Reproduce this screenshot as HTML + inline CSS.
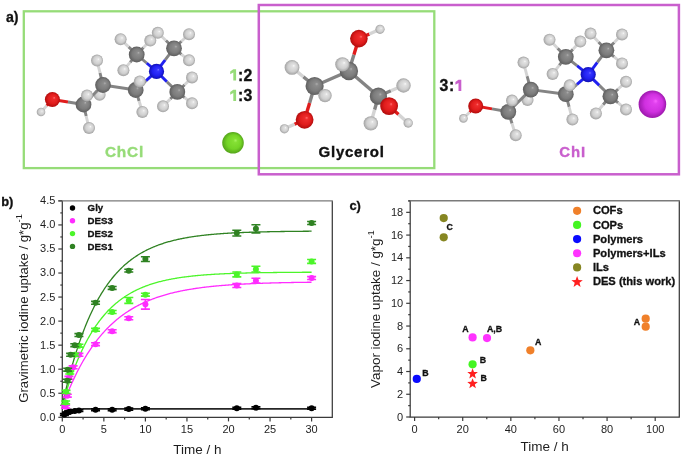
<!DOCTYPE html>
<html><head><meta charset="utf-8"><style>
html,body{margin:0;padding:0;background:#fff;width:685px;height:456px;overflow:hidden}
svg{display:block;filter:blur(0.3px);font-family:"Liberation Sans",sans-serif;}
</style></head><body>
<svg width="685" height="456" viewBox="0 0 685 456">
<defs><radialGradient id="gC" cx="0.5" cy="0.5" r="0.5" fx="0.63" fy="0.38"><stop offset="0" stop-color="#b0b0b0"/><stop offset="0.18" stop-color="#8c8c8c"/><stop offset="0.65" stop-color="#7c7c7c"/><stop offset="1" stop-color="#5e5e5e"/></radialGradient><radialGradient id="gH" cx="0.5" cy="0.5" r="0.5" fx="0.63" fy="0.38"><stop offset="0" stop-color="#fafafa"/><stop offset="0.18" stop-color="#e2e2e2"/><stop offset="0.65" stop-color="#cfcfcf"/><stop offset="1" stop-color="#a2a2a2"/></radialGradient><radialGradient id="gO" cx="0.5" cy="0.5" r="0.5" fx="0.63" fy="0.38"><stop offset="0" stop-color="#ff7070"/><stop offset="0.18" stop-color="#ee2c2c"/><stop offset="0.65" stop-color="#e01c1c"/><stop offset="1" stop-color="#b00c0c"/></radialGradient><radialGradient id="gN" cx="0.5" cy="0.5" r="0.5" fx="0.63" fy="0.38"><stop offset="0" stop-color="#7070ff"/><stop offset="0.18" stop-color="#3434ff"/><stop offset="0.65" stop-color="#2020f0"/><stop offset="1" stop-color="#1010b0"/></radialGradient><radialGradient id="gCl" cx="0.5" cy="0.5" r="0.5" fx="0.63" fy="0.38"><stop offset="0" stop-color="#a8f460"/><stop offset="0.18" stop-color="#84e034"/><stop offset="0.65" stop-color="#74d426"/><stop offset="1" stop-color="#54a41a"/></radialGradient><radialGradient id="gI" cx="0.5" cy="0.5" r="0.5" fx="0.63" fy="0.38"><stop offset="0" stop-color="#f860ff"/><stop offset="0.18" stop-color="#e040ee"/><stop offset="0.65" stop-color="#d030e0"/><stop offset="1" stop-color="#9c18ac"/></radialGradient></defs>
<rect width="685" height="456" fill="#fff"/>
<rect x="23.8" y="11.3" width="410.5" height="156.8" fill="none" stroke="#96dc78" stroke-width="2.3"/><rect x="258.8" y="5" width="420.1" height="169.3" fill="none" stroke="#c95fcd" stroke-width="2.5"/><line x1="103.0" y1="85.0" x2="101.3" y2="89.8" stroke="#848484" stroke-width="2.9"/><line x1="101.3" y1="89.8" x2="99.6" y2="94.7" stroke="#d4d4d4" stroke-width="2.9"/><line x1="136.7" y1="54.5" x2="143.5" y2="47.5" stroke="#848484" stroke-width="2.9"/><line x1="143.5" y1="47.5" x2="150.3" y2="40.6" stroke="#d4d4d4" stroke-width="2.9"/><circle cx="99.6" cy="94.7" r="6.0" fill="url(#gH)"/><circle cx="150.3" cy="40.6" r="6.0" fill="url(#gH)"/><line x1="52.4" y1="99.5" x2="46.7" y2="105.8" stroke="#e01c1c" stroke-width="2.9"/><line x1="46.7" y1="105.8" x2="41.0" y2="112.0" stroke="#d4d4d4" stroke-width="2.9"/><line x1="174.0" y1="48.3" x2="165.9" y2="40.5" stroke="#848484" stroke-width="2.9"/><line x1="165.9" y1="40.5" x2="157.8" y2="32.8" stroke="#d4d4d4" stroke-width="2.9"/><line x1="174.0" y1="48.3" x2="181.5" y2="41.2" stroke="#848484" stroke-width="2.9"/><line x1="181.5" y1="41.2" x2="189.0" y2="34.2" stroke="#d4d4d4" stroke-width="2.9"/><circle cx="41.0" cy="112.0" r="4.3" fill="url(#gH)"/><circle cx="157.8" cy="32.8" r="6.0" fill="url(#gH)"/><circle cx="189.0" cy="34.2" r="6.0" fill="url(#gH)"/><line x1="52.4" y1="99.5" x2="68.0" y2="102.0" stroke="#e01c1c" stroke-width="2.9"/><line x1="68.0" y1="102.0" x2="83.5" y2="104.5" stroke="#848484" stroke-width="2.9"/><line x1="83.5" y1="104.5" x2="85.2" y2="100.0" stroke="#848484" stroke-width="2.9"/><line x1="85.2" y1="100.0" x2="87.0" y2="95.5" stroke="#d4d4d4" stroke-width="2.9"/><line x1="83.5" y1="104.5" x2="86.2" y2="116.2" stroke="#848484" stroke-width="2.9"/><line x1="86.2" y1="116.2" x2="89.0" y2="128.0" stroke="#d4d4d4" stroke-width="2.9"/><line x1="83.5" y1="104.5" x2="103.0" y2="85.0" stroke="#848484" stroke-width="2.9"/><line x1="103.0" y1="85.0" x2="100.0" y2="72.8" stroke="#848484" stroke-width="2.9"/><line x1="100.0" y1="72.8" x2="97.0" y2="60.5" stroke="#d4d4d4" stroke-width="2.9"/><line x1="103.0" y1="85.0" x2="135.7" y2="90.0" stroke="#848484" stroke-width="2.9"/><line x1="135.7" y1="90.0" x2="137.8" y2="85.7" stroke="#848484" stroke-width="2.9"/><line x1="137.8" y1="85.7" x2="139.8" y2="81.4" stroke="#d4d4d4" stroke-width="2.9"/><line x1="135.7" y1="90.0" x2="139.1" y2="101.0" stroke="#848484" stroke-width="2.9"/><line x1="139.1" y1="101.0" x2="142.4" y2="112.0" stroke="#d4d4d4" stroke-width="2.9"/><line x1="135.7" y1="90.0" x2="146.1" y2="80.7" stroke="#848484" stroke-width="2.9"/><line x1="146.1" y1="80.7" x2="156.5" y2="71.4" stroke="#2020f0" stroke-width="2.9"/><line x1="156.5" y1="71.4" x2="146.6" y2="63.0" stroke="#2020f0" stroke-width="2.9"/><line x1="146.6" y1="63.0" x2="136.7" y2="54.5" stroke="#848484" stroke-width="2.9"/><line x1="156.5" y1="71.4" x2="165.2" y2="59.9" stroke="#2020f0" stroke-width="2.9"/><line x1="165.2" y1="59.9" x2="174.0" y2="48.3" stroke="#848484" stroke-width="2.9"/><line x1="136.7" y1="54.5" x2="128.6" y2="46.9" stroke="#848484" stroke-width="2.9"/><line x1="128.6" y1="46.9" x2="120.6" y2="39.2" stroke="#d4d4d4" stroke-width="2.9"/><line x1="136.7" y1="54.5" x2="130.1" y2="62.4" stroke="#848484" stroke-width="2.9"/><line x1="130.1" y1="62.4" x2="123.4" y2="70.2" stroke="#d4d4d4" stroke-width="2.9"/><line x1="174.0" y1="48.3" x2="181.5" y2="54.3" stroke="#848484" stroke-width="2.9"/><line x1="181.5" y1="54.3" x2="189.0" y2="60.3" stroke="#d4d4d4" stroke-width="2.9"/><line x1="177.3" y1="91.9" x2="184.7" y2="84.7" stroke="#848484" stroke-width="2.9"/><line x1="184.7" y1="84.7" x2="192.0" y2="77.4" stroke="#d4d4d4" stroke-width="2.9"/><circle cx="52.4" cy="99.5" r="7.5" fill="url(#gO)"/><circle cx="83.5" cy="104.5" r="7.9" fill="url(#gC)"/><circle cx="89.0" cy="128.0" r="6.0" fill="url(#gH)"/><circle cx="97.0" cy="60.5" r="6.0" fill="url(#gH)"/><circle cx="135.7" cy="90.0" r="7.9" fill="url(#gC)"/><circle cx="142.4" cy="112.0" r="6.0" fill="url(#gH)"/><circle cx="136.7" cy="54.5" r="7.9" fill="url(#gC)"/><circle cx="120.6" cy="39.2" r="6.0" fill="url(#gH)"/><circle cx="174.0" cy="48.3" r="7.9" fill="url(#gC)"/><circle cx="189.0" cy="60.3" r="6.0" fill="url(#gH)"/><circle cx="192.0" cy="77.4" r="6.0" fill="url(#gH)"/><line x1="156.5" y1="71.4" x2="166.9" y2="81.7" stroke="#2020f0" stroke-width="2.9"/><line x1="166.9" y1="81.7" x2="177.3" y2="91.9" stroke="#848484" stroke-width="2.9"/><line x1="177.3" y1="91.9" x2="184.7" y2="97.6" stroke="#848484" stroke-width="2.9"/><line x1="184.7" y1="97.6" x2="192.0" y2="103.3" stroke="#d4d4d4" stroke-width="2.9"/><line x1="177.3" y1="91.9" x2="170.2" y2="99.1" stroke="#848484" stroke-width="2.9"/><line x1="170.2" y1="99.1" x2="163.0" y2="106.3" stroke="#d4d4d4" stroke-width="2.9"/><circle cx="103.0" cy="85.0" r="7.9" fill="url(#gC)"/><circle cx="156.5" cy="71.4" r="7.6" fill="url(#gN)"/><circle cx="123.4" cy="70.2" r="6.0" fill="url(#gH)"/><circle cx="177.3" cy="91.9" r="7.9" fill="url(#gC)"/><circle cx="192.0" cy="103.3" r="6.0" fill="url(#gH)"/><circle cx="163.0" cy="106.3" r="6.0" fill="url(#gH)"/><circle cx="87.0" cy="95.5" r="6.0" fill="url(#gH)"/><circle cx="139.8" cy="81.4" r="6.0" fill="url(#gH)"/><line x1="358.9" y1="38.6" x2="369.4" y2="34.0" stroke="#e01c1c" stroke-width="3.4"/><line x1="369.4" y1="34.0" x2="380.0" y2="29.3" stroke="#d4d4d4" stroke-width="3.4"/><line x1="378.4" y1="96.2" x2="390.9" y2="90.8" stroke="#848484" stroke-width="3.4"/><line x1="390.9" y1="90.8" x2="403.5" y2="85.5" stroke="#d4d4d4" stroke-width="3.4"/><circle cx="380.0" cy="29.3" r="4.6" fill="url(#gH)"/><circle cx="403.5" cy="85.5" r="7.2" fill="url(#gH)"/><line x1="358.9" y1="38.6" x2="353.9" y2="54.8" stroke="#e01c1c" stroke-width="3.4"/><line x1="353.9" y1="54.8" x2="348.9" y2="71.0" stroke="#848484" stroke-width="3.4"/><line x1="348.9" y1="71.0" x2="345.6" y2="67.7" stroke="#848484" stroke-width="3.4"/><line x1="345.6" y1="67.7" x2="342.4" y2="64.4" stroke="#d4d4d4" stroke-width="3.4"/><line x1="348.9" y1="71.0" x2="314.6" y2="86.0" stroke="#848484" stroke-width="3.4"/><line x1="314.6" y1="86.0" x2="303.3" y2="76.7" stroke="#848484" stroke-width="3.4"/><line x1="303.3" y1="76.7" x2="292.0" y2="67.4" stroke="#d4d4d4" stroke-width="3.4"/><line x1="314.6" y1="86.0" x2="319.8" y2="90.8" stroke="#848484" stroke-width="3.4"/><line x1="319.8" y1="90.8" x2="325.0" y2="95.6" stroke="#d4d4d4" stroke-width="3.4"/><line x1="314.6" y1="86.0" x2="309.6" y2="102.9" stroke="#848484" stroke-width="3.4"/><line x1="309.6" y1="102.9" x2="304.6" y2="119.8" stroke="#e01c1c" stroke-width="3.4"/><line x1="304.6" y1="119.8" x2="294.5" y2="124.3" stroke="#e01c1c" stroke-width="3.4"/><line x1="294.5" y1="124.3" x2="284.4" y2="128.8" stroke="#d4d4d4" stroke-width="3.4"/><line x1="348.9" y1="71.0" x2="378.4" y2="96.2" stroke="#848484" stroke-width="3.4"/><line x1="378.4" y1="96.2" x2="383.8" y2="101.2" stroke="#848484" stroke-width="3.4"/><line x1="383.8" y1="101.2" x2="389.1" y2="106.1" stroke="#e01c1c" stroke-width="3.4"/><line x1="378.4" y1="96.2" x2="374.6" y2="109.8" stroke="#848484" stroke-width="3.4"/><line x1="374.6" y1="109.8" x2="370.8" y2="123.4" stroke="#d4d4d4" stroke-width="3.4"/><circle cx="358.9" cy="38.6" r="8.8" fill="url(#gO)"/><circle cx="348.9" cy="71.0" r="9.2" fill="url(#gC)"/><circle cx="314.6" cy="86.0" r="9.1" fill="url(#gC)"/><circle cx="292.0" cy="67.4" r="7.4" fill="url(#gH)"/><circle cx="284.4" cy="128.8" r="4.6" fill="url(#gH)"/><circle cx="378.4" cy="96.2" r="8.6" fill="url(#gC)"/><circle cx="304.6" cy="119.8" r="8.9" fill="url(#gO)"/><circle cx="370.8" cy="123.4" r="7.2" fill="url(#gH)"/><line x1="389.1" y1="106.1" x2="398.6" y2="114.5" stroke="#e01c1c" stroke-width="3.4"/><line x1="398.6" y1="114.5" x2="408.2" y2="123.0" stroke="#d4d4d4" stroke-width="3.4"/><circle cx="325.0" cy="95.6" r="6.7" fill="url(#gH)"/><circle cx="408.2" cy="123.0" r="4.7" fill="url(#gH)"/><circle cx="342.4" cy="64.4" r="7.2" fill="url(#gH)"/><circle cx="389.1" cy="106.1" r="8.9" fill="url(#gO)"/><line x1="530.8" y1="89.6" x2="529.1" y2="94.8" stroke="#848484" stroke-width="2.9"/><line x1="529.1" y1="94.8" x2="527.5" y2="100.0" stroke="#d4d4d4" stroke-width="2.9"/><line x1="565.8" y1="56.8" x2="573.0" y2="49.2" stroke="#848484" stroke-width="2.9"/><line x1="573.0" y1="49.2" x2="580.3" y2="41.6" stroke="#d4d4d4" stroke-width="2.9"/><circle cx="527.5" cy="100.0" r="6.0" fill="url(#gH)"/><circle cx="580.3" cy="41.6" r="6.0" fill="url(#gH)"/><line x1="475.7" y1="106.0" x2="469.5" y2="112.2" stroke="#e01c1c" stroke-width="2.9"/><line x1="469.5" y1="112.2" x2="463.4" y2="118.4" stroke="#d4d4d4" stroke-width="2.9"/><line x1="606.4" y1="50.3" x2="598.5" y2="42.0" stroke="#848484" stroke-width="2.9"/><line x1="598.5" y1="42.0" x2="590.5" y2="33.6" stroke="#d4d4d4" stroke-width="2.9"/><line x1="606.4" y1="50.3" x2="614.2" y2="42.4" stroke="#848484" stroke-width="2.9"/><line x1="614.2" y1="42.4" x2="622.0" y2="34.5" stroke="#d4d4d4" stroke-width="2.9"/><circle cx="463.4" cy="118.4" r="4.3" fill="url(#gH)"/><circle cx="590.5" cy="33.6" r="6.0" fill="url(#gH)"/><circle cx="622.0" cy="34.5" r="6.0" fill="url(#gH)"/><line x1="475.7" y1="106.0" x2="492.0" y2="108.9" stroke="#e01c1c" stroke-width="2.9"/><line x1="492.0" y1="108.9" x2="508.3" y2="111.8" stroke="#848484" stroke-width="2.9"/><line x1="508.3" y1="111.8" x2="510.1" y2="106.2" stroke="#848484" stroke-width="2.9"/><line x1="510.1" y1="106.2" x2="512.0" y2="100.6" stroke="#d4d4d4" stroke-width="2.9"/><line x1="508.3" y1="111.8" x2="512.0" y2="123.5" stroke="#848484" stroke-width="2.9"/><line x1="512.0" y1="123.5" x2="515.7" y2="135.2" stroke="#d4d4d4" stroke-width="2.9"/><line x1="508.3" y1="111.8" x2="530.8" y2="89.6" stroke="#848484" stroke-width="2.9"/><line x1="530.8" y1="89.6" x2="527.1" y2="76.1" stroke="#848484" stroke-width="2.9"/><line x1="527.1" y1="76.1" x2="523.5" y2="62.6" stroke="#d4d4d4" stroke-width="2.9"/><line x1="530.8" y1="89.6" x2="565.8" y2="94.2" stroke="#848484" stroke-width="2.9"/><line x1="565.8" y1="94.2" x2="567.8" y2="89.8" stroke="#848484" stroke-width="2.9"/><line x1="567.8" y1="89.8" x2="569.7" y2="85.3" stroke="#d4d4d4" stroke-width="2.9"/><line x1="565.8" y1="94.2" x2="569.1" y2="106.8" stroke="#848484" stroke-width="2.9"/><line x1="569.1" y1="106.8" x2="572.4" y2="119.5" stroke="#d4d4d4" stroke-width="2.9"/><line x1="565.8" y1="94.2" x2="577.0" y2="84.4" stroke="#848484" stroke-width="2.9"/><line x1="577.0" y1="84.4" x2="588.2" y2="74.6" stroke="#2020f0" stroke-width="2.9"/><line x1="588.2" y1="74.6" x2="577.0" y2="65.7" stroke="#2020f0" stroke-width="2.9"/><line x1="577.0" y1="65.7" x2="565.8" y2="56.8" stroke="#848484" stroke-width="2.9"/><line x1="588.2" y1="74.6" x2="597.3" y2="62.4" stroke="#2020f0" stroke-width="2.9"/><line x1="597.3" y1="62.4" x2="606.4" y2="50.3" stroke="#848484" stroke-width="2.9"/><line x1="565.8" y1="56.8" x2="557.6" y2="48.2" stroke="#848484" stroke-width="2.9"/><line x1="557.6" y1="48.2" x2="549.5" y2="39.7" stroke="#d4d4d4" stroke-width="2.9"/><line x1="565.8" y1="56.8" x2="559.2" y2="65.4" stroke="#848484" stroke-width="2.9"/><line x1="559.2" y1="65.4" x2="552.6" y2="74.0" stroke="#d4d4d4" stroke-width="2.9"/><line x1="606.4" y1="50.3" x2="614.2" y2="56.8" stroke="#848484" stroke-width="2.9"/><line x1="614.2" y1="56.8" x2="622.0" y2="63.4" stroke="#d4d4d4" stroke-width="2.9"/><line x1="610.4" y1="96.3" x2="618.2" y2="89.0" stroke="#848484" stroke-width="2.9"/><line x1="618.2" y1="89.0" x2="626.0" y2="81.8" stroke="#d4d4d4" stroke-width="2.9"/><circle cx="475.7" cy="106.0" r="7.5" fill="url(#gO)"/><circle cx="508.3" cy="111.8" r="7.9" fill="url(#gC)"/><circle cx="515.7" cy="135.2" r="6.0" fill="url(#gH)"/><circle cx="523.5" cy="62.6" r="6.0" fill="url(#gH)"/><circle cx="565.8" cy="94.2" r="7.9" fill="url(#gC)"/><circle cx="572.4" cy="119.5" r="6.0" fill="url(#gH)"/><circle cx="565.8" cy="56.8" r="7.9" fill="url(#gC)"/><circle cx="549.5" cy="39.7" r="6.0" fill="url(#gH)"/><circle cx="606.4" cy="50.3" r="7.9" fill="url(#gC)"/><circle cx="622.0" cy="63.4" r="6.0" fill="url(#gH)"/><circle cx="626.0" cy="81.8" r="6.0" fill="url(#gH)"/><line x1="588.2" y1="74.6" x2="599.3" y2="85.4" stroke="#2020f0" stroke-width="2.9"/><line x1="599.3" y1="85.4" x2="610.4" y2="96.3" stroke="#848484" stroke-width="2.9"/><line x1="610.4" y1="96.3" x2="618.2" y2="102.9" stroke="#848484" stroke-width="2.9"/><line x1="618.2" y1="102.9" x2="626.0" y2="109.5" stroke="#d4d4d4" stroke-width="2.9"/><line x1="610.4" y1="96.3" x2="603.1" y2="104.8" stroke="#848484" stroke-width="2.9"/><line x1="603.1" y1="104.8" x2="595.9" y2="113.4" stroke="#d4d4d4" stroke-width="2.9"/><circle cx="530.8" cy="89.6" r="7.9" fill="url(#gC)"/><circle cx="588.2" cy="74.6" r="7.6" fill="url(#gN)"/><circle cx="552.6" cy="74.0" r="6.0" fill="url(#gH)"/><circle cx="610.4" cy="96.3" r="7.9" fill="url(#gC)"/><circle cx="626.0" cy="109.5" r="6.0" fill="url(#gH)"/><circle cx="595.9" cy="113.4" r="6.0" fill="url(#gH)"/><circle cx="512.0" cy="100.6" r="6.0" fill="url(#gH)"/><circle cx="569.7" cy="85.3" r="6.0" fill="url(#gH)"/><circle cx="233" cy="142.8" r="10.8" fill="url(#gCl)"/><circle cx="652.4" cy="104.2" r="13.8" fill="url(#gI)"/><text x="5.9" y="22.1" font-size="14.2" font-weight="bold" fill="#111" stroke="#111" stroke-width="0.3">a)</text><path transform="translate(230.0,80.4)" d="M3.3,-11.2 H6.1 V0 H3.3 V-8.0 L0.2,-6.2 V-8.9 Z" fill="#96dc78"/><text x="237.9" y="80.5" font-size="15.8" font-weight="bold" fill="#111" stroke="#111" stroke-width="0.35" letter-spacing="0.3">:2</text><path transform="translate(230.0,101.0)" d="M3.3,-11.2 H6.1 V0 H3.3 V-8.0 L0.2,-6.2 V-8.9 Z" fill="#96dc78"/><text x="237.9" y="101.1" font-size="15.8" font-weight="bold" fill="#111" stroke="#111" stroke-width="0.35" letter-spacing="0.3">:3</text><text x="439.6" y="91.1" font-size="15.8" font-weight="bold" fill="#111" stroke="#111" stroke-width="0.35" letter-spacing="0.6">3:</text><path transform="translate(455.2,90.9)" d="M3.3,-11.2 H6.1 V0 H3.3 V-8.0 L0.2,-6.2 V-8.9 Z" fill="#c95fcd"/><text x="104.9" y="156.5" font-size="15.4" font-weight="bold" fill="#96dc78" stroke="#96dc78" stroke-width="0.35" letter-spacing="0.8">ChCl</text><text x="318.6" y="156.6" font-size="15" font-weight="bold" fill="#111" stroke="#111" stroke-width="0.35" letter-spacing="0.75">Glycerol</text><text x="559.2" y="156.6" font-size="14.9" font-weight="bold" fill="#c95fcd" stroke="#c95fcd" stroke-width="0.35" letter-spacing="1.0">ChI</text>
<path d="M332.3,200.9 V417.3 H62.3 V200.9" fill="none" stroke="#3a3a3a" stroke-width="1.25"/><path d="M58.3,200.9 H332.9" stroke="#7a7a7a" stroke-width="1.4"/><line x1="58.3" y1="417.30" x2="62.3" y2="417.30" stroke="#3a3a3a" stroke-width="1.2"/><text x="55.4" y="420.75" text-anchor="end" font-size="11" fill="#1e1e1e">0.0</text><line x1="60.3" y1="405.28" x2="62.3" y2="405.28" stroke="#3a3a3a" stroke-width="1.2"/><line x1="58.3" y1="393.25" x2="62.3" y2="393.25" stroke="#3a3a3a" stroke-width="1.2"/><text x="55.4" y="396.70" text-anchor="end" font-size="11" fill="#1e1e1e">0.5</text><line x1="60.3" y1="381.23" x2="62.3" y2="381.23" stroke="#3a3a3a" stroke-width="1.2"/><line x1="58.3" y1="369.21" x2="62.3" y2="369.21" stroke="#3a3a3a" stroke-width="1.2"/><text x="55.4" y="372.66" text-anchor="end" font-size="11" fill="#1e1e1e">1.0</text><line x1="60.3" y1="357.19" x2="62.3" y2="357.19" stroke="#3a3a3a" stroke-width="1.2"/><line x1="58.3" y1="345.17" x2="62.3" y2="345.17" stroke="#3a3a3a" stroke-width="1.2"/><text x="55.4" y="348.62" text-anchor="end" font-size="11" fill="#1e1e1e">1.5</text><line x1="60.3" y1="333.14" x2="62.3" y2="333.14" stroke="#3a3a3a" stroke-width="1.2"/><line x1="58.3" y1="321.12" x2="62.3" y2="321.12" stroke="#3a3a3a" stroke-width="1.2"/><text x="55.4" y="324.57" text-anchor="end" font-size="11" fill="#1e1e1e">2.0</text><line x1="60.3" y1="309.10" x2="62.3" y2="309.10" stroke="#3a3a3a" stroke-width="1.2"/><line x1="58.3" y1="297.07" x2="62.3" y2="297.07" stroke="#3a3a3a" stroke-width="1.2"/><text x="55.4" y="300.52" text-anchor="end" font-size="11" fill="#1e1e1e">2.5</text><line x1="60.3" y1="285.05" x2="62.3" y2="285.05" stroke="#3a3a3a" stroke-width="1.2"/><line x1="58.3" y1="273.03" x2="62.3" y2="273.03" stroke="#3a3a3a" stroke-width="1.2"/><text x="55.4" y="276.48" text-anchor="end" font-size="11" fill="#1e1e1e">3.0</text><line x1="60.3" y1="261.01" x2="62.3" y2="261.01" stroke="#3a3a3a" stroke-width="1.2"/><line x1="58.3" y1="248.99" x2="62.3" y2="248.99" stroke="#3a3a3a" stroke-width="1.2"/><text x="55.4" y="252.44" text-anchor="end" font-size="11" fill="#1e1e1e">3.5</text><line x1="60.3" y1="236.96" x2="62.3" y2="236.96" stroke="#3a3a3a" stroke-width="1.2"/><line x1="58.3" y1="224.94" x2="62.3" y2="224.94" stroke="#3a3a3a" stroke-width="1.2"/><text x="55.4" y="228.39" text-anchor="end" font-size="11" fill="#1e1e1e">4.0</text><line x1="60.3" y1="212.92" x2="62.3" y2="212.92" stroke="#3a3a3a" stroke-width="1.2"/><line x1="58.3" y1="200.89" x2="62.3" y2="200.89" stroke="#3a3a3a" stroke-width="1.2"/><text x="55.4" y="204.34" text-anchor="end" font-size="11" fill="#1e1e1e">4.5</text><line x1="62.30" y1="417.3" x2="62.30" y2="421.4" stroke="#3a3a3a" stroke-width="1.2"/><text x="62.30" y="433.2" text-anchor="middle" font-size="11" fill="#1e1e1e">0</text><line x1="83.08" y1="417.3" x2="83.08" y2="419.6" stroke="#3a3a3a" stroke-width="1.2"/><line x1="103.85" y1="417.3" x2="103.85" y2="421.4" stroke="#3a3a3a" stroke-width="1.2"/><text x="103.85" y="433.2" text-anchor="middle" font-size="11" fill="#1e1e1e">5</text><line x1="124.62" y1="417.3" x2="124.62" y2="419.6" stroke="#3a3a3a" stroke-width="1.2"/><line x1="145.40" y1="417.3" x2="145.40" y2="421.4" stroke="#3a3a3a" stroke-width="1.2"/><text x="145.40" y="433.2" text-anchor="middle" font-size="11" fill="#1e1e1e">10</text><line x1="166.18" y1="417.3" x2="166.18" y2="419.6" stroke="#3a3a3a" stroke-width="1.2"/><line x1="186.95" y1="417.3" x2="186.95" y2="421.4" stroke="#3a3a3a" stroke-width="1.2"/><text x="186.95" y="433.2" text-anchor="middle" font-size="11" fill="#1e1e1e">15</text><line x1="207.73" y1="417.3" x2="207.73" y2="419.6" stroke="#3a3a3a" stroke-width="1.2"/><line x1="228.50" y1="417.3" x2="228.50" y2="421.4" stroke="#3a3a3a" stroke-width="1.2"/><text x="228.50" y="433.2" text-anchor="middle" font-size="11" fill="#1e1e1e">20</text><line x1="249.28" y1="417.3" x2="249.28" y2="419.6" stroke="#3a3a3a" stroke-width="1.2"/><line x1="270.05" y1="417.3" x2="270.05" y2="421.4" stroke="#3a3a3a" stroke-width="1.2"/><text x="270.05" y="433.2" text-anchor="middle" font-size="11" fill="#1e1e1e">25</text><line x1="290.82" y1="417.3" x2="290.82" y2="419.6" stroke="#3a3a3a" stroke-width="1.2"/><line x1="311.60" y1="417.3" x2="311.60" y2="421.4" stroke="#3a3a3a" stroke-width="1.2"/><text x="311.60" y="433.2" text-anchor="middle" font-size="11" fill="#1e1e1e">30</text><text x="197.5" y="453.8" text-anchor="middle" font-size="13.5" fill="#1e1e1e">Time / h</text><text transform="translate(27.9,402.8) rotate(-90)" font-size="13.2" fill="#1e1e1e">Gravimetric iodine uptake / g*g<tspan dy="-5.5" font-size="9.4">-1</tspan></text><polyline points="62.30,415.38 63.13,414.50 63.96,413.74 64.79,413.08 65.62,412.51 66.45,412.01 67.29,411.58 68.12,411.21 68.95,410.89 69.78,410.61 70.61,410.37 71.44,410.16 72.27,409.97 73.10,409.82 73.93,409.68 74.77,409.56 75.60,409.46 76.43,409.37 77.26,409.29 78.09,409.22 78.92,409.17 79.75,409.12 80.58,409.07 81.41,409.03 82.24,409.00 83.08,408.97 83.91,408.95 84.74,408.93 85.57,408.91 86.40,408.89 87.23,408.88 88.06,408.87 88.89,408.86 89.72,408.85 90.55,408.84 91.39,408.83 92.22,408.83 93.05,408.82 93.88,408.82 94.71,408.81 95.54,408.81 96.37,408.81 97.20,408.80 98.03,408.80 98.86,408.80 99.69,408.80 100.53,408.80 101.36,408.80 102.19,408.80 103.02,408.79 103.85,408.79 104.68,408.79 105.51,408.79 106.34,408.79 107.17,408.79 108.00,408.79 108.84,408.79 109.67,408.79 110.50,408.79 111.33,408.79 112.16,408.79 112.99,408.79 113.82,408.79 114.65,408.79 115.48,408.79 116.31,408.79 117.15,408.79 117.98,408.79 118.81,408.79 119.64,408.79 120.47,408.79 121.30,408.79 122.13,408.79 122.96,408.79 123.79,408.79 124.62,408.79 125.46,408.79 126.29,408.79 127.12,408.79 127.95,408.79 128.78,408.79 129.61,408.79 130.44,408.79 131.27,408.79 132.10,408.79 132.93,408.79 133.77,408.79 134.60,408.79 135.43,408.79 136.26,408.79 137.09,408.79 137.92,408.79 138.75,408.79 139.58,408.79 140.41,408.79 141.24,408.79 142.08,408.79 142.91,408.79 143.74,408.79 144.57,408.79 145.40,408.79 146.23,408.79 147.06,408.79 147.89,408.79 148.72,408.79 149.55,408.79 150.39,408.79 151.22,408.79 152.05,408.79 152.88,408.79 153.71,408.79 154.54,408.79 155.37,408.79 156.20,408.79 157.03,408.79 157.86,408.79 158.70,408.79 159.53,408.79 160.36,408.79 161.19,408.79 162.02,408.79 162.85,408.79 163.68,408.79 164.51,408.79 165.34,408.79 166.17,408.79 167.01,408.79 167.84,408.79 168.67,408.79 169.50,408.79 170.33,408.79 171.16,408.79 171.99,408.79 172.82,408.79 173.65,408.79 174.48,408.79 175.32,408.79 176.15,408.79 176.98,408.79 177.81,408.79 178.64,408.79 179.47,408.79 180.30,408.79 181.13,408.79 181.96,408.79 182.79,408.79 183.63,408.79 184.46,408.79 185.29,408.79 186.12,408.79 186.95,408.79 187.78,408.79 188.61,408.79 189.44,408.79 190.27,408.79 191.10,408.79 191.94,408.79 192.77,408.79 193.60,408.79 194.43,408.79 195.26,408.79 196.09,408.79 196.92,408.79 197.75,408.79 198.58,408.79 199.41,408.79 200.25,408.79 201.08,408.79 201.91,408.79 202.74,408.79 203.57,408.79 204.40,408.79 205.23,408.79 206.06,408.79 206.89,408.79 207.72,408.79 208.56,408.79 209.39,408.79 210.22,408.79 211.05,408.79 211.88,408.79 212.71,408.79 213.54,408.79 214.37,408.79 215.20,408.79 216.03,408.79 216.87,408.79 217.70,408.79 218.53,408.79 219.36,408.79 220.19,408.79 221.02,408.79 221.85,408.79 222.68,408.79 223.51,408.79 224.35,408.79 225.18,408.79 226.01,408.79 226.84,408.79 227.67,408.79 228.50,408.79 229.33,408.79 230.16,408.79 230.99,408.79 231.82,408.79 232.66,408.79 233.49,408.79 234.32,408.79 235.15,408.79 235.98,408.79 236.81,408.79 237.64,408.79 238.47,408.79 239.30,408.79 240.13,408.79 240.97,408.79 241.80,408.79 242.63,408.79 243.46,408.79 244.29,408.79 245.12,408.79 245.95,408.79 246.78,408.79 247.61,408.79 248.44,408.79 249.28,408.79 250.11,408.79 250.94,408.79 251.77,408.79 252.60,408.79 253.43,408.79 254.26,408.79 255.09,408.79 255.92,408.79 256.75,408.79 257.59,408.79 258.42,408.79 259.25,408.79 260.08,408.79 260.91,408.79 261.74,408.79 262.57,408.79 263.40,408.79 264.23,408.79 265.06,408.79 265.90,408.79 266.73,408.79 267.56,408.79 268.39,408.79 269.22,408.79 270.05,408.79 270.88,408.79 271.71,408.79 272.54,408.79 273.37,408.79 274.21,408.79 275.04,408.79 275.87,408.79 276.70,408.79 277.53,408.79 278.36,408.79 279.19,408.79 280.02,408.79 280.85,408.79 281.68,408.79 282.52,408.79 283.35,408.79 284.18,408.79 285.01,408.79 285.84,408.79 286.67,408.79 287.50,408.79 288.33,408.79 289.16,408.79 289.99,408.79 290.83,408.79 291.66,408.79 292.49,408.79 293.32,408.79 294.15,408.79 294.98,408.79 295.81,408.79 296.64,408.79 297.47,408.79 298.30,408.79 299.14,408.79 299.97,408.79 300.80,408.79 301.63,408.79 302.46,408.79 303.29,408.79 304.12,408.79 304.95,408.79 305.78,408.79 306.61,408.79 307.45,408.79 308.28,408.79 309.11,408.79 309.94,408.79 310.77,408.79 311.60,408.79" fill="none" stroke="#262626" stroke-width="1.7"/><polyline points="62.30,406.72 63.13,404.47 63.96,402.26 64.79,400.08 65.62,397.95 66.45,395.85 67.29,393.80 68.12,391.78 68.95,389.79 69.78,387.85 70.61,385.93 71.44,384.06 72.27,382.21 73.10,380.40 73.93,378.62 74.77,376.87 75.60,375.16 76.43,373.48 77.26,371.82 78.09,370.20 78.92,368.60 79.75,367.04 80.58,365.50 81.41,363.99 82.24,362.51 83.08,361.05 83.91,359.62 84.74,358.22 85.57,356.84 86.40,355.48 87.23,354.15 88.06,352.85 88.89,351.57 89.72,350.31 90.55,349.07 91.39,347.86 92.22,346.66 93.05,345.49 93.88,344.34 94.71,343.21 95.54,342.11 96.37,341.02 97.20,339.95 98.03,338.90 98.86,337.87 99.69,336.86 100.53,335.86 101.36,334.89 102.19,333.93 103.02,332.99 103.85,332.06 104.68,331.15 105.51,330.26 106.34,329.39 107.17,328.53 108.00,327.68 108.84,326.85 109.67,326.04 110.50,325.24 111.33,324.46 112.16,323.69 112.99,322.93 113.82,322.19 114.65,321.46 115.48,320.74 116.31,320.04 117.15,319.35 117.98,318.67 118.81,318.00 119.64,317.35 120.47,316.70 121.30,316.07 122.13,315.45 122.96,314.85 123.79,314.25 124.62,313.66 125.46,313.08 126.29,312.52 127.12,311.96 127.95,311.42 128.78,310.88 129.61,310.36 130.44,309.84 131.27,309.33 132.10,308.83 132.93,308.35 133.77,307.86 134.60,307.39 135.43,306.93 136.26,306.48 137.09,306.03 137.92,305.59 138.75,305.16 139.58,304.74 140.41,304.32 141.24,303.91 142.08,303.51 142.91,303.12 143.74,302.73 144.57,302.35 145.40,301.98 146.23,301.62 147.06,301.26 147.89,300.90 148.72,300.56 149.55,300.22 150.39,299.88 151.22,299.56 152.05,299.23 152.88,298.92 153.71,298.61 154.54,298.30 155.37,298.00 156.20,297.71 157.03,297.42 157.86,297.14 158.70,296.86 159.53,296.59 160.36,296.32 161.19,296.05 162.02,295.79 162.85,295.54 163.68,295.29 164.51,295.05 165.34,294.80 166.17,294.57 167.01,294.34 167.84,294.11 168.67,293.88 169.50,293.66 170.33,293.45 171.16,293.24 171.99,293.03 172.82,292.82 173.65,292.62 174.48,292.43 175.32,292.23 176.15,292.04 176.98,291.86 177.81,291.67 178.64,291.49 179.47,291.32 180.30,291.14 181.13,290.97 181.96,290.81 182.79,290.64 183.63,290.48 184.46,290.32 185.29,290.17 186.12,290.01 186.95,289.86 187.78,289.72 188.61,289.57 189.44,289.43 190.27,289.29 191.10,289.15 191.94,289.02 192.77,288.89 193.60,288.76 194.43,288.63 195.26,288.50 196.09,288.38 196.92,288.26 197.75,288.14 198.58,288.03 199.41,287.91 200.25,287.80 201.08,287.69 201.91,287.58 202.74,287.47 203.57,287.37 204.40,287.27 205.23,287.17 206.06,287.07 206.89,286.97 207.72,286.88 208.56,286.78 209.39,286.69 210.22,286.60 211.05,286.51 211.88,286.43 212.71,286.34 213.54,286.26 214.37,286.17 215.20,286.09 216.03,286.01 216.87,285.94 217.70,285.86 218.53,285.78 219.36,285.71 220.19,285.64 221.02,285.57 221.85,285.50 222.68,285.43 223.51,285.36 224.35,285.29 225.18,285.23 226.01,285.17 226.84,285.10 227.67,285.04 228.50,284.98 229.33,284.92 230.16,284.86 230.99,284.81 231.82,284.75 232.66,284.69 233.49,284.64 234.32,284.59 235.15,284.53 235.98,284.48 236.81,284.43 237.64,284.38 238.47,284.33 239.30,284.29 240.13,284.24 240.97,284.19 241.80,284.15 242.63,284.10 243.46,284.06 244.29,284.02 245.12,283.98 245.95,283.94 246.78,283.89 247.61,283.85 248.44,283.82 249.28,283.78 250.11,283.74 250.94,283.70 251.77,283.67 252.60,283.63 253.43,283.60 254.26,283.56 255.09,283.53 255.92,283.49 256.75,283.46 257.59,283.43 258.42,283.40 259.25,283.37 260.08,283.34 260.91,283.31 261.74,283.28 262.57,283.25 263.40,283.22 264.23,283.19 265.06,283.17 265.90,283.14 266.73,283.11 267.56,283.09 268.39,283.06 269.22,283.04 270.05,283.01 270.88,282.99 271.71,282.97 272.54,282.94 273.37,282.92 274.21,282.90 275.04,282.88 275.87,282.85 276.70,282.83 277.53,282.81 278.36,282.79 279.19,282.77 280.02,282.75 280.85,282.73 281.68,282.72 282.52,282.70 283.35,282.68 284.18,282.66 285.01,282.64 285.84,282.63 286.67,282.61 287.50,282.59 288.33,282.58 289.16,282.56 289.99,282.54 290.83,282.53 291.66,282.51 292.49,282.50 293.32,282.48 294.15,282.47 294.98,282.46 295.81,282.44 296.64,282.43 297.47,282.41 298.30,282.40 299.14,282.39 299.97,282.38 300.80,282.36 301.63,282.35 302.46,282.34 303.29,282.33 304.12,282.32 304.95,282.30 305.78,282.29 306.61,282.28 307.45,282.27 308.28,282.26 309.11,282.25 309.94,282.24 310.77,282.23 311.60,282.22" fill="none" stroke="#ff2cff" stroke-width="1.3"/><polyline points="62.30,405.28 63.13,402.32 63.96,399.44 64.79,396.61 65.62,393.85 66.45,391.15 67.29,388.51 68.12,385.93 68.95,383.40 69.78,380.94 70.61,378.52 71.44,376.16 72.27,373.85 73.10,371.60 73.93,369.39 74.77,367.23 75.60,365.12 76.43,363.06 77.26,361.04 78.09,359.07 78.92,357.14 79.75,355.25 80.58,353.41 81.41,351.61 82.24,349.84 83.08,348.12 83.91,346.43 84.74,344.78 85.57,343.17 86.40,341.59 87.23,340.05 88.06,338.55 88.89,337.07 89.72,335.63 90.55,334.22 91.39,332.84 92.22,331.50 93.05,330.18 93.88,328.89 94.71,327.63 95.54,326.40 96.37,325.19 97.20,324.01 98.03,322.86 98.86,321.74 99.69,320.64 100.53,319.56 101.36,318.51 102.19,317.48 103.02,316.47 103.85,315.48 104.68,314.52 105.51,313.58 106.34,312.66 107.17,311.76 108.00,310.88 108.84,310.02 109.67,309.18 110.50,308.36 111.33,307.55 112.16,306.76 112.99,306.00 113.82,305.24 114.65,304.51 115.48,303.79 116.31,303.08 117.15,302.40 117.98,301.72 118.81,301.07 119.64,300.42 120.47,299.80 121.30,299.18 122.13,298.58 122.96,297.99 123.79,297.42 124.62,296.85 125.46,296.31 126.29,295.77 127.12,295.24 127.95,294.73 128.78,294.23 129.61,293.73 130.44,293.25 131.27,292.78 132.10,292.33 132.93,291.88 133.77,291.44 134.60,291.01 135.43,290.59 136.26,290.18 137.09,289.78 137.92,289.38 138.75,289.00 139.58,288.62 140.41,288.26 141.24,287.90 142.08,287.55 142.91,287.20 143.74,286.87 144.57,286.54 145.40,286.22 146.23,285.91 147.06,285.60 147.89,285.30 148.72,285.01 149.55,284.72 150.39,284.44 151.22,284.16 152.05,283.90 152.88,283.63 153.71,283.38 154.54,283.13 155.37,282.88 156.20,282.64 157.03,282.41 157.86,282.18 158.70,281.95 159.53,281.73 160.36,281.52 161.19,281.31 162.02,281.11 162.85,280.90 163.68,280.71 164.51,280.52 165.34,280.33 166.17,280.15 167.01,279.97 167.84,279.79 168.67,279.62 169.50,279.45 170.33,279.29 171.16,279.13 171.99,278.97 172.82,278.82 173.65,278.67 174.48,278.52 175.32,278.38 176.15,278.24 176.98,278.10 177.81,277.97 178.64,277.84 179.47,277.71 180.30,277.59 181.13,277.46 181.96,277.34 182.79,277.23 183.63,277.11 184.46,277.00 185.29,276.89 186.12,276.78 186.95,276.68 187.78,276.58 188.61,276.48 189.44,276.38 190.27,276.28 191.10,276.19 191.94,276.10 192.77,276.01 193.60,275.92 194.43,275.84 195.26,275.75 196.09,275.67 196.92,275.59 197.75,275.51 198.58,275.44 199.41,275.36 200.25,275.29 201.08,275.22 201.91,275.15 202.74,275.08 203.57,275.01 204.40,274.95 205.23,274.88 206.06,274.82 206.89,274.76 207.72,274.70 208.56,274.64 209.39,274.59 210.22,274.53 211.05,274.48 211.88,274.42 212.71,274.37 213.54,274.32 214.37,274.27 215.20,274.22 216.03,274.17 216.87,274.13 217.70,274.08 218.53,274.04 219.36,273.99 220.19,273.95 221.02,273.91 221.85,273.87 222.68,273.83 223.51,273.79 224.35,273.75 225.18,273.71 226.01,273.68 226.84,273.64 227.67,273.61 228.50,273.57 229.33,273.54 230.16,273.51 230.99,273.47 231.82,273.44 232.66,273.41 233.49,273.38 234.32,273.35 235.15,273.32 235.98,273.30 236.81,273.27 237.64,273.24 238.47,273.22 239.30,273.19 240.13,273.17 240.97,273.14 241.80,273.12 242.63,273.10 243.46,273.07 244.29,273.05 245.12,273.03 245.95,273.01 246.78,272.99 247.61,272.97 248.44,272.95 249.28,272.93 250.11,272.91 250.94,272.89 251.77,272.87 252.60,272.85 253.43,272.84 254.26,272.82 255.09,272.80 255.92,272.79 256.75,272.77 257.59,272.75 258.42,272.74 259.25,272.72 260.08,272.71 260.91,272.70 261.74,272.68 262.57,272.67 263.40,272.65 264.23,272.64 265.06,272.63 265.90,272.62 266.73,272.60 267.56,272.59 268.39,272.58 269.22,272.57 270.05,272.56 270.88,272.55 271.71,272.54 272.54,272.53 273.37,272.52 274.21,272.51 275.04,272.50 275.87,272.49 276.70,272.48 277.53,272.47 278.36,272.46 279.19,272.45 280.02,272.44 280.85,272.43 281.68,272.43 282.52,272.42 283.35,272.41 284.18,272.40 285.01,272.40 285.84,272.39 286.67,272.38 287.50,272.37 288.33,272.37 289.16,272.36 289.99,272.35 290.83,272.35 291.66,272.34 292.49,272.34 293.32,272.33 294.15,272.32 294.98,272.32 295.81,272.31 296.64,272.31 297.47,272.30 298.30,272.30 299.14,272.29 299.97,272.29 300.80,272.28 301.63,272.28 302.46,272.27 303.29,272.27 304.12,272.26 304.95,272.26 305.78,272.26 306.61,272.25 307.45,272.25 308.28,272.24 309.11,272.24 309.94,272.24 310.77,272.23 311.60,272.23" fill="none" stroke="#4cf52a" stroke-width="1.3"/><polyline points="62.30,405.28 63.13,401.53 63.96,397.86 64.79,394.27 65.62,390.76 66.45,387.32 67.29,383.96 68.12,380.67 68.95,377.45 69.78,374.30 70.61,371.22 71.44,368.20 72.27,365.25 73.10,362.36 73.93,359.54 74.77,356.77 75.60,354.06 76.43,351.42 77.26,348.83 78.09,346.29 78.92,343.81 79.75,341.38 80.58,339.01 81.41,336.69 82.24,334.41 83.08,332.19 83.91,330.01 84.74,327.88 85.57,325.80 86.40,323.76 87.23,321.76 88.06,319.81 88.89,317.90 89.72,316.03 90.55,314.20 91.39,312.41 92.22,310.66 93.05,308.94 93.88,307.26 94.71,305.62 95.54,304.02 96.37,302.45 97.20,300.91 98.03,299.40 98.86,297.93 99.69,296.49 100.53,295.08 101.36,293.70 102.19,292.35 103.02,291.03 103.85,289.74 104.68,288.48 105.51,287.24 106.34,286.03 107.17,284.85 108.00,283.69 108.84,282.55 109.67,281.44 110.50,280.36 111.33,279.29 112.16,278.25 112.99,277.24 113.82,276.24 114.65,275.27 115.48,274.32 116.31,273.38 117.15,272.47 117.98,271.58 118.81,270.70 119.64,269.85 120.47,269.01 121.30,268.19 122.13,267.39 122.96,266.61 123.79,265.84 124.62,265.09 125.46,264.36 126.29,263.64 127.12,262.94 127.95,262.25 128.78,261.58 129.61,260.92 130.44,260.27 131.27,259.64 132.10,259.03 132.93,258.42 133.77,257.83 134.60,257.25 135.43,256.69 136.26,256.13 137.09,255.59 137.92,255.06 138.75,254.54 139.58,254.04 140.41,253.54 141.24,253.05 142.08,252.58 142.91,252.11 143.74,251.66 144.57,251.21 145.40,250.78 146.23,250.35 147.06,249.93 147.89,249.53 148.72,249.13 149.55,248.74 150.39,248.35 151.22,247.98 152.05,247.61 152.88,247.25 153.71,246.90 154.54,246.56 155.37,246.23 156.20,245.90 157.03,245.58 157.86,245.26 158.70,244.95 159.53,244.65 160.36,244.36 161.19,244.07 162.02,243.79 162.85,243.51 163.68,243.24 164.51,242.98 165.34,242.72 166.17,242.46 167.01,242.22 167.84,241.98 168.67,241.74 169.50,241.51 170.33,241.28 171.16,241.06 171.99,240.84 172.82,240.63 173.65,240.42 174.48,240.22 175.32,240.02 176.15,239.82 176.98,239.63 177.81,239.44 178.64,239.26 179.47,239.08 180.30,238.91 181.13,238.74 181.96,238.57 182.79,238.41 183.63,238.24 184.46,238.09 185.29,237.93 186.12,237.78 186.95,237.64 187.78,237.49 188.61,237.35 189.44,237.22 190.27,237.08 191.10,236.95 191.94,236.82 192.77,236.69 193.60,236.57 194.43,236.45 195.26,236.33 196.09,236.22 196.92,236.10 197.75,235.99 198.58,235.88 199.41,235.78 200.25,235.67 201.08,235.57 201.91,235.47 202.74,235.38 203.57,235.28 204.40,235.19 205.23,235.10 206.06,235.01 206.89,234.92 207.72,234.83 208.56,234.75 209.39,234.67 210.22,234.59 211.05,234.51 211.88,234.43 212.71,234.36 213.54,234.29 214.37,234.21 215.20,234.14 216.03,234.08 216.87,234.01 217.70,233.94 218.53,233.88 219.36,233.82 220.19,233.75 221.02,233.69 221.85,233.63 222.68,233.58 223.51,233.52 224.35,233.47 225.18,233.41 226.01,233.36 226.84,233.31 227.67,233.26 228.50,233.21 229.33,233.16 230.16,233.11 230.99,233.06 231.82,233.02 232.66,232.97 233.49,232.93 234.32,232.89 235.15,232.85 235.98,232.81 236.81,232.77 237.64,232.73 238.47,232.69 239.30,232.65 240.13,232.61 240.97,232.58 241.80,232.54 242.63,232.51 243.46,232.48 244.29,232.44 245.12,232.41 245.95,232.38 246.78,232.35 247.61,232.32 248.44,232.29 249.28,232.26 250.11,232.23 250.94,232.21 251.77,232.18 252.60,232.15 253.43,232.13 254.26,232.10 255.09,232.08 255.92,232.05 256.75,232.03 257.59,232.00 258.42,231.98 259.25,231.96 260.08,231.94 260.91,231.92 261.74,231.90 262.57,231.88 263.40,231.86 264.23,231.84 265.06,231.82 265.90,231.80 266.73,231.78 267.56,231.76 268.39,231.75 269.22,231.73 270.05,231.71 270.88,231.70 271.71,231.68 272.54,231.66 273.37,231.65 274.21,231.63 275.04,231.62 275.87,231.60 276.70,231.59 277.53,231.58 278.36,231.56 279.19,231.55 280.02,231.54 280.85,231.52 281.68,231.51 282.52,231.50 283.35,231.49 284.18,231.48 285.01,231.47 285.84,231.45 286.67,231.44 287.50,231.43 288.33,231.42 289.16,231.41 289.99,231.40 290.83,231.39 291.66,231.38 292.49,231.37 293.32,231.36 294.15,231.36 294.98,231.35 295.81,231.34 296.64,231.33 297.47,231.32 298.30,231.31 299.14,231.31 299.97,231.30 300.80,231.29 301.63,231.28 302.46,231.28 303.29,231.27 304.12,231.26 304.95,231.26 305.78,231.25 306.61,231.24 307.45,231.24 308.28,231.23 309.11,231.22 309.94,231.22 310.77,231.21 311.60,231.21" fill="none" stroke="#2f8222" stroke-width="1.3"/><path d="M64.38,413.45V415.38M59.88,413.45h9M59.88,415.38h9" stroke="#000000" stroke-width="1.6" fill="none"/><circle cx="64.38" cy="414.41" r="3" fill="#000000"/><path d="M66.45,412.01V413.93M61.95,412.01h9M61.95,413.93h9" stroke="#000000" stroke-width="1.6" fill="none"/><circle cx="66.45" cy="412.97" r="3" fill="#000000"/><path d="M68.53,411.05V412.97M64.03,411.05h9M64.03,412.97h9" stroke="#000000" stroke-width="1.6" fill="none"/><circle cx="68.53" cy="412.01" r="3" fill="#000000"/><path d="M70.61,410.57V412.49M66.11,410.57h9M66.11,412.49h9" stroke="#000000" stroke-width="1.6" fill="none"/><circle cx="70.61" cy="411.53" r="3" fill="#000000"/><path d="M74.77,410.09V412.01M70.27,410.09h9M70.27,412.01h9" stroke="#000000" stroke-width="1.6" fill="none"/><circle cx="74.77" cy="411.05" r="3" fill="#000000"/><path d="M78.92,409.61V411.53M74.42,409.61h9M74.42,411.53h9" stroke="#000000" stroke-width="1.6" fill="none"/><circle cx="78.92" cy="410.57" r="3" fill="#000000"/><path d="M95.54,408.88V410.81M91.04,408.88h9M91.04,410.81h9" stroke="#000000" stroke-width="1.6" fill="none"/><circle cx="95.54" cy="409.85" r="3" fill="#000000"/><path d="M112.16,408.88V410.81M107.66,408.88h9M107.66,410.81h9" stroke="#000000" stroke-width="1.6" fill="none"/><circle cx="112.16" cy="409.85" r="3" fill="#000000"/><path d="M128.78,408.16V410.09M124.28,408.16h9M124.28,410.09h9" stroke="#000000" stroke-width="1.6" fill="none"/><circle cx="128.78" cy="409.12" r="3" fill="#000000"/><path d="M145.40,407.68V409.61M140.90,407.68h9M140.90,409.61h9" stroke="#000000" stroke-width="1.6" fill="none"/><circle cx="145.40" cy="408.64" r="3" fill="#000000"/><path d="M236.81,407.20V409.12M232.31,407.20h9M232.31,409.12h9" stroke="#000000" stroke-width="1.6" fill="none"/><circle cx="236.81" cy="408.16" r="3" fill="#000000"/><path d="M255.92,406.72V408.64M251.42,406.72h9M251.42,408.64h9" stroke="#000000" stroke-width="1.6" fill="none"/><circle cx="255.92" cy="407.68" r="3" fill="#000000"/><path d="M311.60,407.20V409.12M307.10,407.20h9M307.10,409.12h9" stroke="#000000" stroke-width="1.6" fill="none"/><circle cx="311.60" cy="408.16" r="3" fill="#000000"/><path d="M65.62,405.28V408.16M61.12,405.28h9M61.12,408.16h9" stroke="#ff2cff" stroke-width="1.6" fill="none"/><circle cx="65.62" cy="406.72" r="3" fill="#ff2cff"/><path d="M67.29,394.22V397.10M62.79,394.22h9M62.79,397.10h9" stroke="#ff2cff" stroke-width="1.6" fill="none"/><circle cx="67.29" cy="395.66" r="3" fill="#ff2cff"/><path d="M68.95,376.42V379.31M64.45,376.42h9M64.45,379.31h9" stroke="#ff2cff" stroke-width="1.6" fill="none"/><circle cx="68.95" cy="377.87" r="3" fill="#ff2cff"/><path d="M73.10,365.84V368.73M68.60,365.84h9M68.60,368.73h9" stroke="#ff2cff" stroke-width="1.6" fill="none"/><circle cx="73.10" cy="367.29" r="3" fill="#ff2cff"/><path d="M78.92,353.34V356.23M74.42,353.34h9M74.42,356.23h9" stroke="#ff2cff" stroke-width="1.6" fill="none"/><circle cx="78.92" cy="354.78" r="3" fill="#ff2cff"/><path d="M95.54,342.76V345.65M91.04,342.76h9M91.04,345.65h9" stroke="#ff2cff" stroke-width="1.6" fill="none"/><circle cx="95.54" cy="344.20" r="3" fill="#ff2cff"/><path d="M112.16,329.78V332.66M107.66,329.78h9M107.66,332.66h9" stroke="#ff2cff" stroke-width="1.6" fill="none"/><circle cx="112.16" cy="331.22" r="3" fill="#ff2cff"/><path d="M128.78,316.79V319.68M124.28,316.79h9M124.28,319.68h9" stroke="#ff2cff" stroke-width="1.6" fill="none"/><circle cx="128.78" cy="318.23" r="3" fill="#ff2cff"/><path d="M145.40,299.48V309.10M140.90,299.48h9M140.90,309.10h9" stroke="#ff2cff" stroke-width="1.6" fill="none"/><circle cx="145.40" cy="304.29" r="3" fill="#ff2cff"/><path d="M236.81,283.61V287.46M232.31,283.61h9M232.31,287.46h9" stroke="#ff2cff" stroke-width="1.6" fill="none"/><circle cx="236.81" cy="285.53" r="3" fill="#ff2cff"/><path d="M255.92,278.32V283.13M251.42,278.32h9M251.42,283.13h9" stroke="#ff2cff" stroke-width="1.6" fill="none"/><circle cx="255.92" cy="280.72" r="3" fill="#ff2cff"/><path d="M311.60,276.64V279.52M307.10,276.64h9M307.10,279.52h9" stroke="#ff2cff" stroke-width="1.6" fill="none"/><circle cx="311.60" cy="278.08" r="3" fill="#ff2cff"/><path d="M65.62,400.95V403.83M61.12,400.95h9M61.12,403.83h9" stroke="#4cf52a" stroke-width="1.6" fill="none"/><circle cx="65.62" cy="402.39" r="3" fill="#4cf52a"/><path d="M66.04,390.37V393.25M61.54,390.37h9M61.54,393.25h9" stroke="#4cf52a" stroke-width="1.6" fill="none"/><circle cx="66.04" cy="391.81" r="3" fill="#4cf52a"/><path d="M69.78,371.13V374.02M65.28,371.13h9M65.28,374.02h9" stroke="#4cf52a" stroke-width="1.6" fill="none"/><circle cx="69.78" cy="372.58" r="3" fill="#4cf52a"/><path d="M74.77,353.34V356.23M70.27,353.34h9M70.27,356.23h9" stroke="#4cf52a" stroke-width="1.6" fill="none"/><circle cx="74.77" cy="354.78" r="3" fill="#4cf52a"/><path d="M78.92,344.20V347.09M74.42,344.20h9M74.42,347.09h9" stroke="#4cf52a" stroke-width="1.6" fill="none"/><circle cx="78.92" cy="345.65" r="3" fill="#4cf52a"/><path d="M95.54,328.33V331.22M91.04,328.33h9M91.04,331.22h9" stroke="#4cf52a" stroke-width="1.6" fill="none"/><circle cx="95.54" cy="329.78" r="3" fill="#4cf52a"/><path d="M112.16,310.54V313.43M107.66,310.54h9M107.66,313.43h9" stroke="#4cf52a" stroke-width="1.6" fill="none"/><circle cx="112.16" cy="311.98" r="3" fill="#4cf52a"/><path d="M128.78,297.56V303.33M124.28,297.56h9M124.28,303.33h9" stroke="#4cf52a" stroke-width="1.6" fill="none"/><circle cx="128.78" cy="300.44" r="3" fill="#4cf52a"/><path d="M145.40,293.23V296.11M140.90,293.23h9M140.90,296.11h9" stroke="#4cf52a" stroke-width="1.6" fill="none"/><circle cx="145.40" cy="294.67" r="3" fill="#4cf52a"/><path d="M236.81,272.07V276.88M232.31,272.07h9M232.31,276.88h9" stroke="#4cf52a" stroke-width="1.6" fill="none"/><circle cx="236.81" cy="274.47" r="3" fill="#4cf52a"/><path d="M255.92,266.30V272.07M251.42,266.30h9M251.42,272.07h9" stroke="#4cf52a" stroke-width="1.6" fill="none"/><circle cx="255.92" cy="269.18" r="3" fill="#4cf52a"/><path d="M311.60,259.56V263.41M307.10,259.56h9M307.10,263.41h9" stroke="#4cf52a" stroke-width="1.6" fill="none"/><circle cx="311.60" cy="261.49" r="3" fill="#4cf52a"/><path d="M67.29,379.31V382.19M62.79,379.31h9M62.79,382.19h9" stroke="#2f8222" stroke-width="1.6" fill="none"/><circle cx="67.29" cy="380.75" r="3" fill="#2f8222"/><path d="M67.70,368.25V371.13M63.20,368.25h9M63.20,371.13h9" stroke="#2f8222" stroke-width="1.6" fill="none"/><circle cx="67.70" cy="369.69" r="3" fill="#2f8222"/><path d="M70.61,353.34V356.23M66.11,353.34h9M66.11,356.23h9" stroke="#2f8222" stroke-width="1.6" fill="none"/><circle cx="70.61" cy="354.78" r="3" fill="#2f8222"/><path d="M74.77,343.72V346.61M70.27,343.72h9M70.27,346.61h9" stroke="#2f8222" stroke-width="1.6" fill="none"/><circle cx="74.77" cy="345.17" r="3" fill="#2f8222"/><path d="M78.92,333.62V336.51M74.42,333.62h9M74.42,336.51h9" stroke="#2f8222" stroke-width="1.6" fill="none"/><circle cx="78.92" cy="335.07" r="3" fill="#2f8222"/><path d="M95.54,301.40V304.29M91.04,301.40h9M91.04,304.29h9" stroke="#2f8222" stroke-width="1.6" fill="none"/><circle cx="95.54" cy="302.85" r="3" fill="#2f8222"/><path d="M112.16,286.50V289.38M107.66,286.50h9M107.66,289.38h9" stroke="#2f8222" stroke-width="1.6" fill="none"/><circle cx="112.16" cy="287.94" r="3" fill="#2f8222"/><path d="M128.78,269.18V272.07M124.28,269.18h9M124.28,272.07h9" stroke="#2f8222" stroke-width="1.6" fill="none"/><circle cx="128.78" cy="270.63" r="3" fill="#2f8222"/><path d="M145.40,256.68V261.49M140.90,256.68h9M140.90,261.49h9" stroke="#2f8222" stroke-width="1.6" fill="none"/><circle cx="145.40" cy="259.08" r="3" fill="#2f8222"/><path d="M236.81,230.23V236.00M232.31,230.23h9M232.31,236.00h9" stroke="#2f8222" stroke-width="1.6" fill="none"/><circle cx="236.81" cy="233.12" r="3" fill="#2f8222"/><path d="M255.92,224.70V232.87M251.42,224.70h9M251.42,232.87h9" stroke="#2f8222" stroke-width="1.6" fill="none"/><circle cx="255.92" cy="228.79" r="3" fill="#2f8222"/><path d="M311.60,221.57V224.46M307.10,221.57h9M307.10,224.46h9" stroke="#2f8222" stroke-width="1.6" fill="none"/><circle cx="311.60" cy="223.02" r="3" fill="#2f8222"/><circle cx="72.5" cy="208.0" r="2.7" fill="#000000"/><text x="87.6" y="211.4" font-size="9.7" font-weight="bold" fill="#111" stroke="#111" stroke-width="0.3">Gly</text><circle cx="72.5" cy="220.8" r="2.7" fill="#ff2cff"/><text x="87.6" y="224.2" font-size="9.7" font-weight="bold" fill="#111" stroke="#111" stroke-width="0.3">DES3</text><circle cx="72.5" cy="233.6" r="2.7" fill="#4cf52a"/><text x="87.6" y="237.0" font-size="9.7" font-weight="bold" fill="#111" stroke="#111" stroke-width="0.3">DES2</text><circle cx="72.5" cy="246.4" r="2.7" fill="#2f8222"/><text x="87.6" y="249.8" font-size="9.7" font-weight="bold" fill="#111" stroke="#111" stroke-width="0.3">DES1</text><text x="1.2" y="205.5" font-size="12.9" font-weight="bold" fill="#111" stroke="#111" stroke-width="0.3">b)</text>
<path d="M679.3,200.8 V417.0 H410.2 V200.8" fill="none" stroke="#3a3a3a" stroke-width="1.25"/><path d="M408.2,200.8 H679.9" stroke="#7a7a7a" stroke-width="1.4"/><line x1="406.2" y1="417.00" x2="410.2" y2="417.00" stroke="#3a3a3a" stroke-width="1.2"/><text x="403.2" y="420.55" text-anchor="end" font-size="11" fill="#1e1e1e">0</text><line x1="408.2" y1="405.63" x2="410.2" y2="405.63" stroke="#3a3a3a" stroke-width="1.2"/><line x1="406.2" y1="394.26" x2="410.2" y2="394.26" stroke="#3a3a3a" stroke-width="1.2"/><text x="403.2" y="397.81" text-anchor="end" font-size="11" fill="#1e1e1e">2</text><line x1="408.2" y1="382.89" x2="410.2" y2="382.89" stroke="#3a3a3a" stroke-width="1.2"/><line x1="406.2" y1="371.52" x2="410.2" y2="371.52" stroke="#3a3a3a" stroke-width="1.2"/><text x="403.2" y="375.07" text-anchor="end" font-size="11" fill="#1e1e1e">4</text><line x1="408.2" y1="360.15" x2="410.2" y2="360.15" stroke="#3a3a3a" stroke-width="1.2"/><line x1="406.2" y1="348.78" x2="410.2" y2="348.78" stroke="#3a3a3a" stroke-width="1.2"/><text x="403.2" y="352.33" text-anchor="end" font-size="11" fill="#1e1e1e">6</text><line x1="408.2" y1="337.41" x2="410.2" y2="337.41" stroke="#3a3a3a" stroke-width="1.2"/><line x1="406.2" y1="326.04" x2="410.2" y2="326.04" stroke="#3a3a3a" stroke-width="1.2"/><text x="403.2" y="329.59" text-anchor="end" font-size="11" fill="#1e1e1e">8</text><line x1="408.2" y1="314.67" x2="410.2" y2="314.67" stroke="#3a3a3a" stroke-width="1.2"/><line x1="406.2" y1="303.30" x2="410.2" y2="303.30" stroke="#3a3a3a" stroke-width="1.2"/><text x="403.2" y="306.85" text-anchor="end" font-size="11" fill="#1e1e1e">10</text><line x1="408.2" y1="291.93" x2="410.2" y2="291.93" stroke="#3a3a3a" stroke-width="1.2"/><line x1="406.2" y1="280.56" x2="410.2" y2="280.56" stroke="#3a3a3a" stroke-width="1.2"/><text x="403.2" y="284.11" text-anchor="end" font-size="11" fill="#1e1e1e">12</text><line x1="408.2" y1="269.19" x2="410.2" y2="269.19" stroke="#3a3a3a" stroke-width="1.2"/><line x1="406.2" y1="257.82" x2="410.2" y2="257.82" stroke="#3a3a3a" stroke-width="1.2"/><text x="403.2" y="261.37" text-anchor="end" font-size="11" fill="#1e1e1e">14</text><line x1="408.2" y1="246.45" x2="410.2" y2="246.45" stroke="#3a3a3a" stroke-width="1.2"/><line x1="406.2" y1="235.08" x2="410.2" y2="235.08" stroke="#3a3a3a" stroke-width="1.2"/><text x="403.2" y="238.63" text-anchor="end" font-size="11" fill="#1e1e1e">16</text><line x1="408.2" y1="223.71" x2="410.2" y2="223.71" stroke="#3a3a3a" stroke-width="1.2"/><line x1="406.2" y1="212.34" x2="410.2" y2="212.34" stroke="#3a3a3a" stroke-width="1.2"/><text x="403.2" y="215.89" text-anchor="end" font-size="11" fill="#1e1e1e">18</text><line x1="408.2" y1="200.97" x2="410.2" y2="200.97" stroke="#3a3a3a" stroke-width="1.2"/><line x1="414.60" y1="417" x2="414.60" y2="421.1" stroke="#3a3a3a" stroke-width="1.2"/><text x="414.60" y="433.3" text-anchor="middle" font-size="11" fill="#1e1e1e">0</text><line x1="438.66" y1="417" x2="438.66" y2="419.3" stroke="#3a3a3a" stroke-width="1.2"/><line x1="462.72" y1="417" x2="462.72" y2="421.1" stroke="#3a3a3a" stroke-width="1.2"/><text x="462.72" y="433.3" text-anchor="middle" font-size="11" fill="#1e1e1e">20</text><line x1="486.78" y1="417" x2="486.78" y2="419.3" stroke="#3a3a3a" stroke-width="1.2"/><line x1="510.84" y1="417" x2="510.84" y2="421.1" stroke="#3a3a3a" stroke-width="1.2"/><text x="510.84" y="433.3" text-anchor="middle" font-size="11" fill="#1e1e1e">40</text><line x1="534.90" y1="417" x2="534.90" y2="419.3" stroke="#3a3a3a" stroke-width="1.2"/><line x1="558.96" y1="417" x2="558.96" y2="421.1" stroke="#3a3a3a" stroke-width="1.2"/><text x="558.96" y="433.3" text-anchor="middle" font-size="11" fill="#1e1e1e">60</text><line x1="583.02" y1="417" x2="583.02" y2="419.3" stroke="#3a3a3a" stroke-width="1.2"/><line x1="607.08" y1="417" x2="607.08" y2="421.1" stroke="#3a3a3a" stroke-width="1.2"/><text x="607.08" y="433.3" text-anchor="middle" font-size="11" fill="#1e1e1e">80</text><line x1="631.14" y1="417" x2="631.14" y2="419.3" stroke="#3a3a3a" stroke-width="1.2"/><line x1="655.20" y1="417" x2="655.20" y2="421.1" stroke="#3a3a3a" stroke-width="1.2"/><text x="655.20" y="433.3" text-anchor="middle" font-size="11" fill="#1e1e1e">100</text><text x="544.7" y="451" text-anchor="middle" font-size="13.5" fill="#1e1e1e">Time / h</text><text transform="translate(379.6,387.9) rotate(-90)" font-size="13.4" fill="#1e1e1e">Vapor iodine uptake / g*g<tspan dy="-5.5" font-size="9.4">-1</tspan></text><circle cx="530.33" cy="350.37" r="4.1" fill="#f0802a"/><circle cx="645.70" cy="318.65" r="4.1" fill="#f0802a"/><circle cx="645.70" cy="326.72" r="4.1" fill="#f0802a"/><circle cx="472.58" cy="364.36" r="4.1" fill="#44f522"/><circle cx="416.77" cy="378.91" r="4.1" fill="#0a0aff"/><circle cx="472.58" cy="337.41" r="4.1" fill="#ff33ff"/><circle cx="487.02" cy="338.09" r="4.1" fill="#ff33ff"/><circle cx="443.71" cy="218.03" r="4.1" fill="#868622"/><circle cx="443.71" cy="237.35" r="4.1" fill="#868622"/><polygon points="472.58,368.25 473.97,371.95 477.91,372.12 474.82,374.58 475.88,378.38 472.58,376.20 469.29,378.38 470.35,374.58 467.26,372.12 471.20,371.95" fill="#ff2020"/><polygon points="472.58,378.14 473.97,381.84 477.91,382.01 474.82,384.47 475.88,388.28 472.58,386.09 469.29,388.28 470.35,384.47 467.26,382.01 471.20,381.84" fill="#ff2020"/><text x="446.6" y="230.2" font-size="8.8" font-weight="bold" fill="#111" stroke="#111" stroke-width="0.3">C</text><text x="462.3" y="332.3" font-size="8.8" font-weight="bold" fill="#111" stroke="#111" stroke-width="0.3">A</text><text x="486.9" y="332.3" font-size="8.8" font-weight="bold" fill="#111" stroke="#111" stroke-width="0.3">A,B</text><text x="479.8" y="363.1" font-size="8.8" font-weight="bold" fill="#111" stroke="#111" stroke-width="0.3">B</text><text x="480.4" y="380.9" font-size="8.8" font-weight="bold" fill="#111" stroke="#111" stroke-width="0.3">B</text><text x="422.3" y="376.3" font-size="8.8" font-weight="bold" fill="#111" stroke="#111" stroke-width="0.3">B</text><text x="534.9" y="344.9" font-size="8.8" font-weight="bold" fill="#111" stroke="#111" stroke-width="0.3">A</text><text x="633.7" y="325.2" font-size="8.8" font-weight="bold" fill="#111" stroke="#111" stroke-width="0.3">A</text><circle cx="577.1" cy="210.80" r="4.1" fill="#f0802a"/><text x="592.9" y="214.35" font-size="11.15" font-weight="bold" fill="#111" stroke="#111" stroke-width="0.3">COFs</text><circle cx="577.1" cy="224.95" r="4.1" fill="#44f522"/><text x="592.9" y="228.50" font-size="11.15" font-weight="bold" fill="#111" stroke="#111" stroke-width="0.3">COPs</text><circle cx="577.1" cy="239.10" r="4.1" fill="#0a0aff"/><text x="592.9" y="242.65" font-size="11.15" font-weight="bold" fill="#111" stroke="#111" stroke-width="0.3">Polymers</text><circle cx="577.1" cy="253.25" r="4.1" fill="#ff33ff"/><text x="592.9" y="256.80" font-size="11.15" font-weight="bold" fill="#111" stroke="#111" stroke-width="0.3">Polymers+ILs</text><circle cx="577.1" cy="267.40" r="4.1" fill="#868622"/><text x="592.9" y="270.95" font-size="11.15" font-weight="bold" fill="#111" stroke="#111" stroke-width="0.3">ILs</text><polygon points="577.10,276.05 578.57,280.03 582.81,280.20 579.48,282.82 580.63,286.90 577.10,284.55 573.57,286.90 574.72,282.82 571.39,280.20 575.63,280.03" fill="#ff2020"/><text x="592.9" y="285.10" font-size="11.15" font-weight="bold" fill="#111" stroke="#111" stroke-width="0.3">DES (this work)</text><text x="349.4" y="209.5" font-size="12.9" font-weight="bold" fill="#111" stroke="#111" stroke-width="0.3">c)</text>
</svg>
</body></html>
